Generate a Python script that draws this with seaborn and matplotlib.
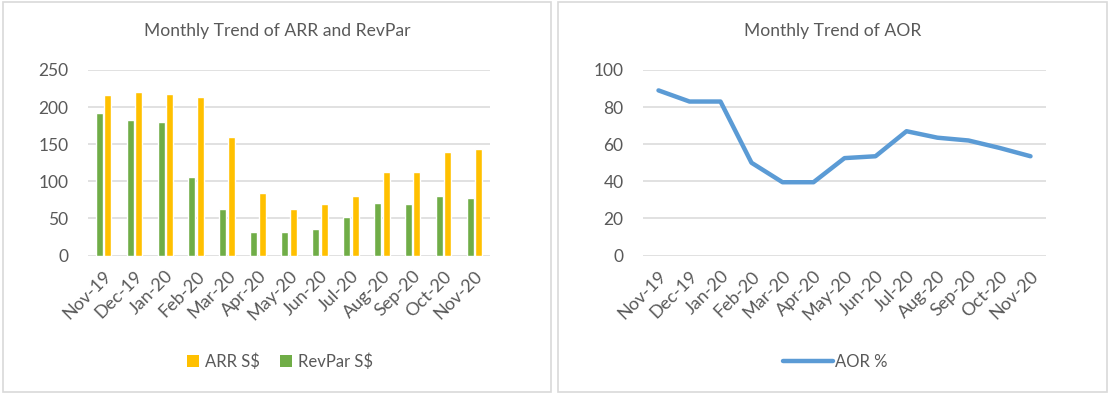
import matplotlib
matplotlib.use("Agg")
import matplotlib.pyplot as plt
import seaborn as sns
import pandas as pd
from matplotlib.patches import Rectangle, Patch
from matplotlib.lines import Line2D

months = ["Nov-19", "Dec-19", "Jan-20", "Feb-20", "Mar-20", "Apr-20", "May-20",
          "Jun-20", "Jul-20", "Aug-20", "Sep-20", "Oct-20", "Nov-20"]
arr = [216, 220, 218, 214, 160, 84, 62, 69, 80, 113, 113, 139, 144]
revpar = [192, 183, 180, 106, 63, 32, 32, 36, 52, 71, 70, 80, 78]
aor = [89, 83, 83, 50, 39.5, 39.5, 52.5, 53.5, 67, 63.5, 62, 58, 53.5]

ARR_C = "#FFC000"
REV_C = "#70AD47"
LINE_C = "#5B9BD5"
TXT_C = "#595959"
GRID_C = "#D9D9D9"

sns.set_theme(style="white")
plt.rcParams["font.family"] = ["Lato", "DejaVu Sans"]

W, H = 1113, 399
fig = plt.figure(figsize=(W / 100, H / 100), dpi=100)

def fx(px):
    return px / W

def fy(py):
    return 1 - py / H

# panel frames
for x0, x1 in [(3, 551), (558, 1107)]:
    fig.patches.append(Rectangle((fx(x0), fy(392)), fx(x1) - fx(x0), fy(2) - fy(392),
                                 transform=fig.transFigure, fill=False,
                                 edgecolor=GRID_C, linewidth=1.2))

ax1 = fig.add_axes([fx(88), fy(255.5), fx(490) - fx(88), fy(70) - fy(255.5)])
ax2 = fig.add_axes([fx(643), fy(255.5), fx(1046) - fx(643), fy(70) - fy(255.5)])

df_bar = pd.DataFrame({
    "Month": months * 2,
    "Value": revpar + arr,
    "Series": ["RevPar S$"] * len(months) + ["ARR S$"] * len(months),
})
sns.barplot(data=df_bar, x="Month", y="Value", hue="Series",
            hue_order=["RevPar S$", "ARR S$"],
            palette={"RevPar S$": REV_C, "ARR S$": ARR_C},
            width=0.55, gap=0.18, legend=False, ax=ax1, saturation=1)

df_line = pd.DataFrame({"Month": months, "AOR": aor})
sns.lineplot(data=df_line, x="Month", y="AOR", color=LINE_C, linewidth=3.2,
             sort=False, ax=ax2, solid_capstyle="round", solid_joinstyle="round")

for ax, ymax, step in [(ax1, 250, 50), (ax2, 100, 20)]:
    ax.set_xlim(-0.5, len(months) - 0.5)
    ax.set_ylim(0, ymax)
    ax.set_yticks(range(0, ymax + 1, step))
    ax.set_xlabel("")
    ax.set_ylabel("")
    for s in ax.spines.values():
        s.set_visible(False)
    ax.grid(axis="y", color=GRID_C, linewidth=1.1)
    ax.set_axisbelow(True)
    ax.tick_params(axis="both", length=0, colors=TXT_C)
    ax.tick_params(axis="y", pad=14, labelsize=12.5)
    ax.set_xticks(range(len(months)))
    ax.set_xticklabels(months, rotation=45, ha="right", rotation_mode="anchor",
                       color=TXT_C, fontsize=13)
    ax.tick_params(axis="x", pad=9)

fig.text(fx(277), fy(31), "Monthly Trend of ARR and RevPar", ha="center", va="center",
         color=TXT_C, fontsize=12.6)
fig.text(fx(832.5), fy(31), "Monthly Trend of AOR", ha="center", va="center",
         color=TXT_C, fontsize=12.6)

h1 = [Patch(facecolor=ARR_C, edgecolor="none", label="ARR S$"),
      Patch(facecolor=REV_C, edgecolor="none", label="RevPar S$")]
fig.legend(handles=h1, loc="center", bbox_to_anchor=(fx(280), fy(362)),
           bbox_transform=fig.transFigure, ncol=2, frameon=False,
           fontsize=12, labelcolor=TXT_C, handlelength=0.72, handleheight=0.72,
           handletextpad=0.35, columnspacing=1.2, borderpad=0)

h2 = [Line2D([0], [0], color=LINE_C, linewidth=3.2, solid_capstyle="round", label="AOR %")]
fig.legend(handles=h2, loc="center", bbox_to_anchor=(fx(835), fy(362)),
           bbox_transform=fig.transFigure, ncol=1, frameon=False,
           fontsize=12, labelcolor=TXT_C, handlelength=3.0,
           handletextpad=0.15, borderpad=0)

fig.savefig("out.png", dpi=100)
